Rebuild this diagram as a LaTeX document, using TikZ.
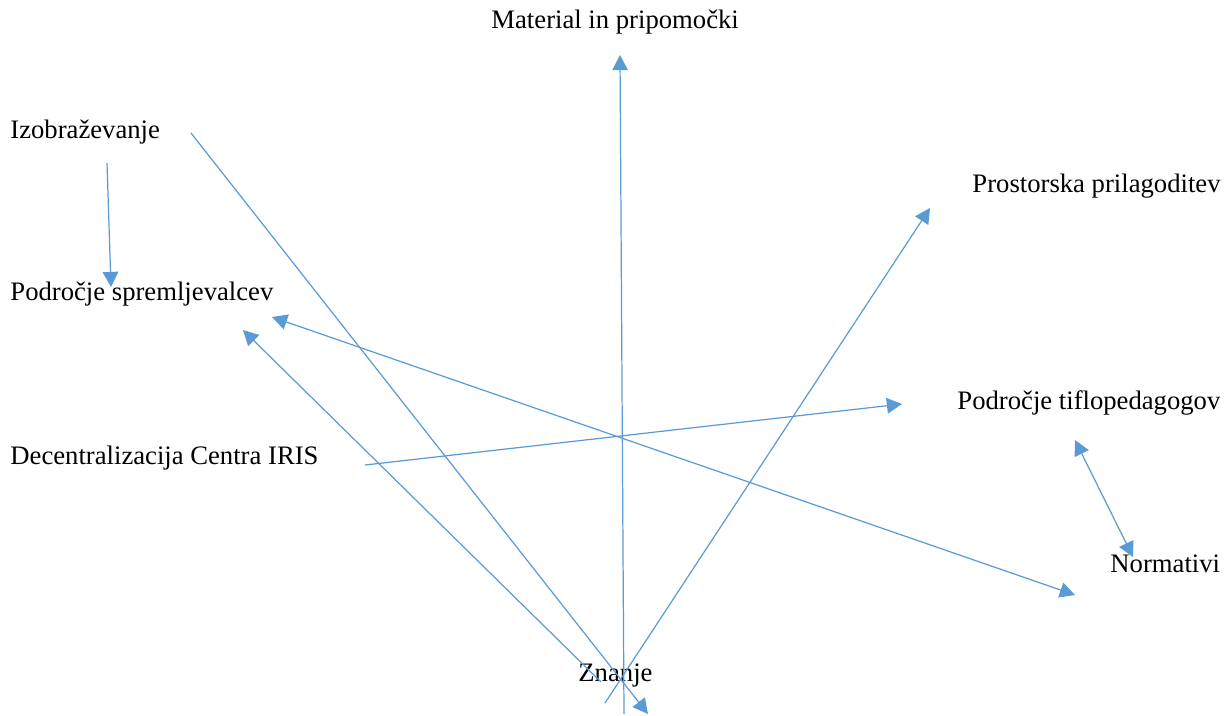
\documentclass[tikz,border=0pt]{standalone}
\usepackage{fontspec}
\setmainfont{Liberation Serif}
\usetikzlibrary{arrows.meta}
\definecolor{linkblue}{HTML}{5B9BD5}
\tikzset{
	link/.style={draw=linkblue, line width=0.55pt, -{Triangle[length=6.8pt,width=7pt]}},
	bilink/.style={link, {Triangle[length=6.8pt,width=7pt]}-{Triangle[length=6.8pt,width=7pt]}},
	lbl/.style={anchor=base west, inner sep=0pt}
}
\begin{document}
\begin{tikzpicture}[x=0.45pt, y=-0.45pt, font=\fontsize{12pt}{14pt}\selectfont, line join=round]
	\useasboundingbox (0,0) rectangle (1228,715);
	% labels
	\node[lbl] (mat) at (491,28) {Material in pripomočki};
	\node[lbl] (izo) at (10,138) {Izobraževanje};
	\node[lbl] (pro) at (972,192) {Prostorska prilagoditev};
	\node[lbl] (spr) at (10,300) {Področje spremljevalcev};
	\node[lbl] (tif) at (957,409) {Področje tiflopedagogov};
	\node[lbl] (dec) at (10,464) {Decentralizacija Centra IRIS};
	\node[lbl] (nor) at (1110,572) {Normativi};
	\node[lbl] (zna) at (578,681) {Znanje};
	% arrow ends
	\coordinate (izoA) at (107,163); \coordinate (izoB) at (111,287);
	\coordinate (izoC) at (191,133); \coordinate (znaA) at (648,714);
	\coordinate (znaB) at (624,714); \coordinate (matA) at (620,55);
	\coordinate (znaC) at (605,703); \coordinate (proA) at (930,208);
	\coordinate (znaD) at (601,682); \coordinate (sprA) at (243,330);
	\coordinate (sprB) at (272,317); \coordinate (norA) at (1075,595);
	\coordinate (decA) at (365,465); \coordinate (tifA) at (902,404);
	\coordinate (tifB) at (1075,440); \coordinate (norB) at (1133,557);
	% connectors
	\draw[link] (izoA) -- (izoB);
	\draw[link] (izoC) -- (znaA);
	\draw[link] (znaB) -- (matA);
	\draw[link] (znaC) -- (proA);
	\draw[link] (znaD) -- (sprA);
	\draw[bilink] (sprB) -- (norA);
	\draw[link] (decA) -- (tifA);
	\draw[bilink] (tifB) -- (norB);
\end{tikzpicture}
\end{document}
